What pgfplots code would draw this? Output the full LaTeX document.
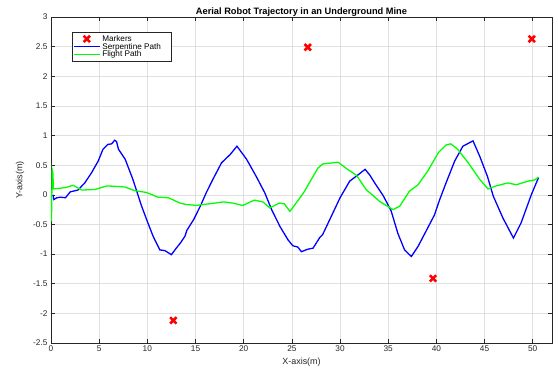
\documentclass[border=0pt]{standalone}
\usepackage{pgfplots}
\pgfplotsset{compat=1.18}
\usepackage{fontspec}
\setmainfont{Liberation Sans}
\definecolor{axgray}{rgb}{0.15,0.15,0.15}
\definecolor{gridgray}{rgb}{0.88,0.88,0.88}
\begin{document}
\begin{tikzpicture}
\begin{axis}[
  scale only axis, width=501bp, height=326bp,
  xmin=0, xmax=52, ymin=-2.5, ymax=3,
  xtick={0,5,...,50}, ytick={-2.5,-2,...,3},
  yticklabel style={/pgf/number format/fixed},
  /pgf/number format/assume math mode=true,
  tick label style={font=\fontsize{8.3}{9}\selectfont, text=axgray},
  xticklabel style={yshift=1bp},
  tick align=inside, tick style={axgray, line width=0.5pt}, major tick length=4bp,
  xtick pos=both, ytick pos=both,
  grid=major, grid style={gridgray, line width=0.6pt},
  axis line style={axgray, line width=0.6pt},
  title={\bfseries Aerial Robot Trajectory in an Underground Mine},
  title style={font=\fontsize{9.3}{10}\selectfont, at={(axis description cs:0.5,1)}, anchor=base, yshift=-3bp, inner sep=0pt},
  xlabel={X-axis(m)}, ylabel={Y-axis(m)},
  label style={font=\fontsize{9}{10}\selectfont, text=axgray},
  xlabel style={at={(axis description cs:0.5,-0.058)}, anchor=center},
  ylabel style={at={(axis description cs:-0.062,0.5)}, anchor=center},
  legend style={at={(axis description cs:0.042,0.954)}, anchor=north west,
    font=\fontsize{8.2}{9}\selectfont, draw=axgray,
    inner sep=1pt, row sep=-3.5pt, legend cell align=left, fill=white},
  legend image code/.code={\draw[mark repeat=2,mark phase=2,#1] plot coordinates {(0cm,0cm) (13bp,0cm) (26bp,0cm)};},
  legend image post style={line width=1.1pt},
]
\addplot[only marks, red, mark=x, mark size=4.5bp, line width=2.6pt, mark options={line width=2.6pt}]
  coordinates {(26.65,2.49) (49.9,2.63) (12.7,-2.12) (39.65,-1.41)};
\addlegendentry{Markers}
\addplot[blue, line width=1.3pt] coordinates {
(0.2,0.0) (0.3,-0.08) (0.6,-0.05) (1.0,-0.04) (1.5,-0.05) (2.0,0.05) (2.8,0.08)
(3.5,0.2) (4.2,0.37) (4.9,0.57) (5.4,0.77) (5.9,0.85) (6.3,0.86) (6.6,0.92)
(6.8,0.9) (7.0,0.77) (7.7,0.6) (8.5,0.26) (9.4,-0.19) (10.0,-0.45) (10.6,-0.7)
(11.3,-0.93) (11.8,-0.94) (12.5,-1.01) (13.0,-0.9) (13.4,-0.82) (13.9,-0.7)
(14.1,-0.6) (14.8,-0.42) (15.5,-0.19) (16.1,0.03) (16.8,0.26) (17.7,0.54)
(18.6,0.68) (19.3,0.82) (20.3,0.6) (21.3,0.31) (22.2,0.03) (22.9,-0.25)
(23.75,-0.53) (24.6,-0.76) (25.1,-0.86) (25.6,-0.88) (26.0,-0.96) (26.6,-0.92)
(27.2,-0.9) (27.9,-0.72) (28.2,-0.67) (29.1,-0.36) (30.0,-0.05) (31.0,0.23)
(31.9,0.34) (32.6,0.43) (33.1,0.33) (33.6,0.2) (34.5,-0.02) (35.3,-0.27)
(36.0,-0.65) (36.7,-0.93) (37.4,-1.04) (38.1,-0.87) (39.0,-0.59) (39.8,-0.34)
(40.3,-0.1) (41.0,0.2) (41.9,0.57) (42.75,0.82) (43.8,0.91) (44.5,0.65)
(45.3,0.31) (45.9,-0.02) (46.9,-0.39) (48.0,-0.73) (48.8,-0.47) (49.85,0.0)
(50.6,0.29)};
\addlegendentry{\makebox[66bp][l]{Serpentine Path}}
\addplot[green, line width=1.3pt] coordinates {
(0.0,0.0) (0.05,-0.45) (0.12,0.42) (0.2,0.36) (0.25,0.1) (1.45,0.12) (2.3,0.16)
(3.2,0.08) (4.55,0.09) (5.8,0.15) (7.0,0.14) (7.7,0.13) (8.7,0.07) (9.9,0.04)
(11.1,-0.04) (12.2,-0.05) (13.4,-0.14) (13.9,-0.16) (15.1,-0.18) (15.45,-0.17)
(16.5,-0.15) (17.9,-0.12) (18.9,-0.14) (19.9,-0.18) (21.1,-0.09) (22.0,-0.12)
(22.7,-0.22) (23.7,-0.14) (24.2,-0.15) (24.8,-0.28) (26.2,0.03) (27.7,0.45)
(28.2,0.52) (29.8,0.55) (30.7,0.44) (31.7,0.33) (32.7,0.09) (34.1,-0.11)
(35.5,-0.25) (36.2,-0.19) (37.2,0.06) (38.1,0.17) (39.1,0.4) (40.2,0.71)
(41.0,0.84) (41.5,0.86) (42.2,0.77) (43.3,0.54) (44.5,0.26) (45.35,0.1)
(46.2,0.15) (47.4,0.2) (48.3,0.17) (49.5,0.23) (50.2,0.25) (50.6,0.3)};
\addlegendentry{Flight Path}
\end{axis}
\pgfresetboundingbox
\path ([shift={(-51bp,-25bp)}]current axis.south west) rectangle ([shift={(6bp,17bp)}]current axis.north east);
\end{tikzpicture}
\end{document}
